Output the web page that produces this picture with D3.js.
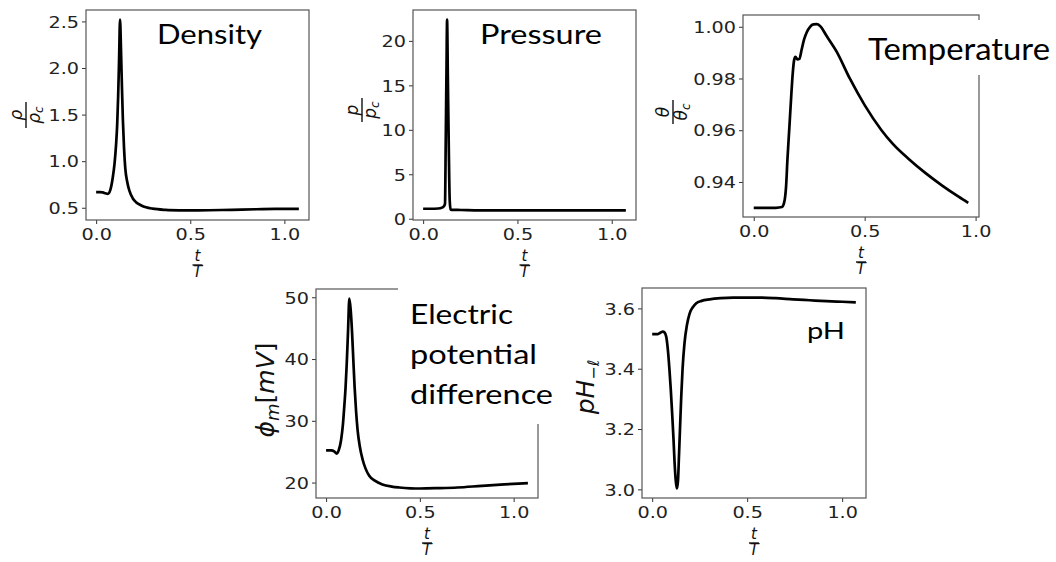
<!DOCTYPE html>
<html>
<head>
<meta charset="utf-8">
<script src="https://cdn.jsdelivr.net/npm/d3@7"></script>
<style>
  body { margin: 0; background: #fff; }
  svg { display: block; }
  .tick text { font-family: "DejaVu Sans", sans-serif; font-size: 16px; fill: #222; }
  .tick line { stroke: #333; }
  .title { font-family: Lato, "Open Sans", sans-serif; fill: #000; }
  .math { font-family: "DejaVu Sans", sans-serif; font-style: italic; fill: #111; }
</style>
</head>
<body>
<svg id="chart" width="1056" height="562"></svg>
<script>
// data, t/T on the x axis
const xTicks = [0.0, 0.5, 1.0];

const densityT = [0, 0.02, 0.035, 0.05, 0.062, 0.075, 0.088, 0.098, 0.106, 0.112, 0.117, 0.122, 0.127, 0.132, 0.137, 0.142, 0.148, 0.155, 0.165, 0.177, 0.195, 0.212, 0.24, 0.265, 0.3, 0.37, 0.45, 0.5, 0.6, 0.72, 0.85, 0.95, 1.077];
const densityV = [0.667, 0.667, 0.665, 0.655, 0.65, 0.69, 0.82, 0.98, 1.18, 1.4, 1.7, 2.1, 2.52, 2.2, 1.8, 1.45, 1.15, 0.92, 0.78, 0.68, 0.6, 0.56, 0.525, 0.505, 0.49, 0.477, 0.472, 0.471, 0.473, 0.478, 0.484, 0.487, 0.489];
const densityTicks = [0.5, 1.0, 1.5, 2.0, 2.5];

const pressureT = [0, 0.04, 0.08, 0.1, 0.11, 0.116, 0.12, 0.124, 0.127, 0.131, 0.136, 0.141, 0.146, 0.15, 0.2, 0.3, 0.5, 0.7, 0.9, 1.075];
const pressureV = [1.12, 1.12, 1.15, 1.25, 1.4, 1.7, 9, 17, 22.4, 16, 8, 2, 1.05, 1.0, 0.98, 0.94, 0.93, 0.93, 0.93, 0.93];
const pressureTicks = [0, 5, 10, 15, 20];

const tempT = [0, 0.05, 0.1, 0.127, 0.137, 0.146, 0.152, 0.161, 0.169, 0.176, 0.182, 0.188, 0.197, 0.206, 0.216, 0.227, 0.239, 0.254, 0.269, 0.284, 0.299, 0.328, 0.373, 0.433, 0.5, 0.575, 0.627, 0.701, 0.776, 0.851, 0.925, 0.967];
const tempV = [0.930, 0.930, 0.930, 0.9303, 0.932, 0.9385, 0.9488, 0.9616, 0.9732, 0.9822, 0.9871, 0.9884, 0.9874, 0.9876, 0.9912, 0.9951, 0.9979, 1.0000, 1.0009, 1.0010, 1.0003, 0.9965, 0.9905, 0.9800, 0.9697, 0.9601, 0.9547, 0.9487, 0.9433, 0.9385, 0.9342, 0.9319];
const tempTicks = [0.94, 0.96, 0.98, 1.00];

const phiT = [0, 0.027, 0.045, 0.057, 0.068, 0.08, 0.09, 0.097, 0.104, 0.11, 0.117, 0.124, 0.131, 0.138, 0.145, 0.152, 0.16, 0.168, 0.18, 0.195, 0.21, 0.23, 0.26, 0.3, 0.35, 0.39, 0.45, 0.5, 0.6, 0.7, 0.83, 0.95, 1.076];
const phiV = [25.2, 25.2, 25.0, 24.7, 25.3, 26.9, 29.5, 32.3, 35.5, 39.2, 44.5, 49.8, 48.0, 44.6, 40.0, 35.5, 31.5, 28.5, 25.8, 23.7, 22.3, 21.1, 20.3, 19.7, 19.35, 19.2, 19.07, 19.04, 19.1, 19.2, 19.47, 19.7, 19.9];
const phiTicks = [20, 30, 40, 50];

const phT = [0, 0.03, 0.045, 0.056, 0.065, 0.074, 0.083, 0.091, 0.098, 0.105, 0.112, 0.118, 0.124, 0.13, 0.136, 0.141, 0.147, 0.153, 0.16, 0.17, 0.183, 0.197, 0.215, 0.232, 0.26, 0.302, 0.36, 0.425, 0.5, 0.566, 0.65, 0.742, 0.83, 0.917, 1.0, 1.072];
const phV = [3.515, 3.515, 3.52, 3.523, 3.52, 3.506, 3.46, 3.396, 3.33, 3.253, 3.17, 3.088, 3.03, 3.003, 3.03, 3.11, 3.21, 3.308, 3.40, 3.484, 3.545, 3.583, 3.605, 3.617, 3.625, 3.630, 3.634, 3.636, 3.636, 3.636, 3.634, 3.630, 3.627, 3.624, 3.622, 3.62];
const phTicks = [3.0, 3.2, 3.4, 3.6];

const svg = d3.select('#chart');
svg.append('rect').attr('width', 1056).attr('height', 562).attr('fill', '#fff');

const stretch = 1.2; // the source picture is a bit wider than tall

// matplotlib-ish 5% margins
function padded(vals) {
    const [lo, hi] = d3.extent(vals);
    const m = (hi - lo) * 0.05;
    return [lo - m, hi + m];
}

// fraction like matplotlib's \frac, drawn around (0,0) = the bar
function fraction(g, num, den, sub, size, barW) {
    g.append('text').attr('class', 'math').attr('text-anchor', 'middle')
        .attr('y', -4).style('font-size', size + 'px').text(num);
    g.append('line').attr('x1', -barW / 2).attr('x2', barW / 2)
        .attr('stroke', '#111').attr('stroke-width', 1.4);
    const d = g.append('text').attr('class', 'math').attr('text-anchor', 'middle')
        .attr('y', size * 0.8).style('font-size', size + 'px');
    d.append('tspan').text(den);
    if (sub) d.append('tspan').attr('dy', size * 0.2).style('font-size', (size * 0.7) + 'px').text(sub);
}

function panel(cfg) {
    const [x0, y0, x1, y1] = cfg.box;
    const x = d3.scaleLinear().domain(padded(cfg.t)).range([x0, x1]);
    const y = d3.scaleLinear().domain(padded(cfg.v)).range([y1, y0]);
    const g = svg.append('g');

    const ax = g.append('g').attr('transform', `translate(0,${y1})`)
        .call(d3.axisBottom(x).tickValues(xTicks).tickFormat(d3.format('.1f')).tickSize(4).tickPadding(4));
    const ay = g.append('g').attr('transform', `translate(${x0},0)`)
        .call(d3.axisLeft(y).tickValues(cfg.yTicks).tickFormat(d3.format(cfg.fmt)).tickSize(4).tickPadding(3));
    [ax, ay].forEach(a => a.select('.domain').remove());
    ax.selectAll('.tick text').attr('transform', `scale(${stretch},1)`).attr('dy', '0.74em');
    ay.selectAll('.tick text').attr('transform', `scale(${stretch},1)`)
        .attr('x', -7 / stretch).attr('dy', '0.36em');

    g.append('rect').attr('x', x0).attr('y', y0).attr('width', x1 - x0).attr('height', y1 - y0)
        .attr('fill', 'none').attr('stroke', '#555').attr('stroke-width', 1.2);

    const pts = cfg.t.map((t, i) => [t, cfg.v[i]]);
    g.append('path').datum(pts)
        .attr('fill', 'none').attr('stroke', '#000').attr('stroke-width', 2.7)
        .attr('stroke-linejoin', 'round')
        .attr('d', d3.line().x(d => x(d[0])).y(d => y(d[1])).curve(d3.curveMonotoneX));

    // x label t / T
    const xl = g.append('g').attr('transform', `translate(${(x0 + x1) / 2},${y1 + 45})`);
    fraction(xl, 't', 'T', null, 15, 10);
    return g;
}

panel({ t: densityT, v: densityV, yTicks: densityTicks, fmt: '.1f', box: [86, 10, 309, 220] });
panel({ t: pressureT, v: pressureV, yTicks: pressureTicks, fmt: 'd', box: [413, 10, 636, 220] });
panel({ t: tempT, v: tempV, yTicks: tempTicks, fmt: '.2f', box: [743, 15, 979, 217] });
panel({ t: phiT, v: phiV, yTicks: phiTicks, fmt: 'd', box: [316, 289, 538, 498] });
panel({ t: phT, v: phV, yTicks: phTicks, fmt: '.1f', box: [642, 288, 866, 498] });

// rotated y labels
fraction(svg.append('g').attr('transform', 'translate(26,115) rotate(-90)'), 'ρ', 'ρ', 'c', 17, 26);
fraction(svg.append('g').attr('transform', 'translate(362,110) rotate(-90)'), 'p', 'p', 'c', 17, 24);
fraction(svg.append('g').attr('transform', 'translate(673,112) rotate(-90)'), 'θ', 'θ', 'c', 17, 24);

const phiLab = svg.append('text').attr('class', 'math')
    .attr('transform', 'translate(274,390) rotate(-90)').attr('text-anchor', 'middle')
    .style('font-size', '25px');
phiLab.append('tspan').text('ϕ');
phiLab.append('tspan').attr('dy', 5).style('font-size', '18px').text('m');
phiLab.append('tspan').attr('dy', -5).style('font-style', 'normal').text('[');
phiLab.append('tspan').text('mV');
phiLab.append('tspan').style('font-style', 'normal').text(']');

const phLab = svg.append('text').attr('class', 'math')
    .attr('transform', 'translate(594,387) rotate(-90)').attr('text-anchor', 'middle')
    .style('font-size', '25px');
phLab.append('tspan').text('pH');
phLab.append('tspan').attr('dy', 5).style('font-size', '16px').text('−ℓ');

// panel titles; white boxes hide the spines behind two of them
svg.append('rect').attr('x', 860).attr('y', 20).attr('width', 196).attr('height', 55).attr('fill', '#fff');
svg.append('rect').attr('x', 398).attr('y', 280).attr('width', 162).attr('height', 144).attr('fill', '#fff');

const titles = [
    { text: 'Density', x: 157, y: 44, len: 105, size: 26 },
    { text: 'Pressure', x: 480, y: 43.5, len: 122, size: 26 },
    { text: 'Temperature', x: 868, y: 59.5, len: 182, size: 31 },
    { text: 'Electric', x: 410, y: 323.5, len: 103, size: 26 },
    { text: 'potential', x: 410, y: 364, len: 127, size: 26 },
    { text: 'difference', x: 410, y: 404, len: 143, size: 26 },
    { text: 'pH', x: 807, y: 338.5, len: 38, size: 23 }
];
svg.selectAll('text.title').data(titles).enter().append('text')
    .attr('class', 'title')
    .attr('x', d => d.x).attr('y', d => d.y)
    .attr('textLength', d => d.len).attr('lengthAdjust', 'spacingAndGlyphs')
    .style('font-size', d => d.size + 'px')
    .text(d => d.text);
</script>
</body>
</html>
